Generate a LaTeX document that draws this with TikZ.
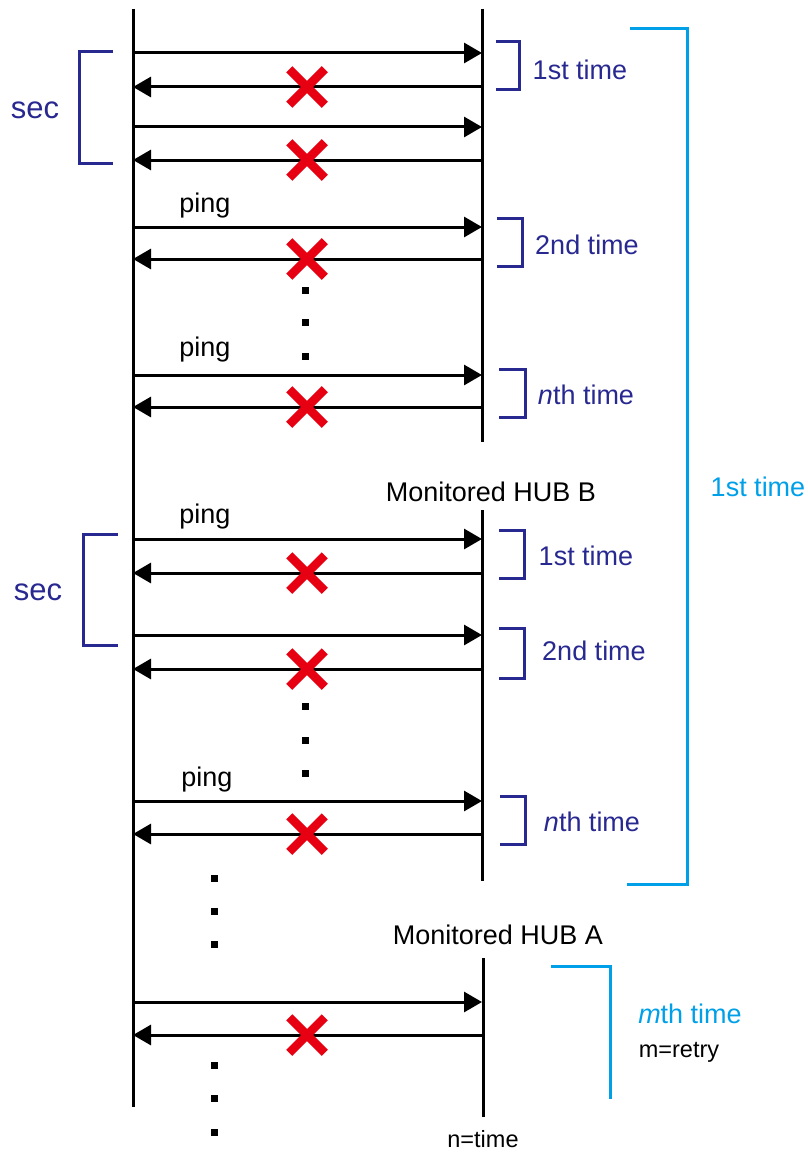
\documentclass[tikz,border=0pt]{standalone}
\usepackage{fontspec}
\setmainfont{Liberation Sans}
\usetikzlibrary{arrows.meta,shapes.misc}
\definecolor{Bdark}{RGB}{40,40,145}
\definecolor{Bcyan}{RGB}{0,160,233}
\definecolor{Xred}{RGB}{230,0,18}

\begin{document}
\begin{tikzpicture}[x=1pt,y=-1pt,line join=miter,
  life/.style={line width=3pt},
  msg/.style={line width=3pt,-{Triangle[length=18pt,width=20pt]}},
  lost/.style={cross out,draw=Xred,line width=8.5pt,minimum size=27pt,inner sep=0pt},
  dotmark/.style={fill=black,minimum size=7pt,inner sep=0pt},
  brk/.style={line width=3pt,draw=Bdark},
  cbrk/.style={line width=3pt,draw=Bcyan},
  txt/.style={font=\fontsize{27}{30}\selectfont,inner sep=0pt},
  smalltxt/.style={font=\fontsize{23.5}{26}\selectfont,inner sep=0pt}]
\path[use as bounding box] (0,0) rectangle (807,1153);
% lifelines
\coordinate (srcT) at (133,9);
\coordinate (srcB) at (133,1107);
\coordinate (hub1T) at (482,9);
\coordinate (hub1B) at (482,442);
\coordinate (hubBT) at (482,510);
\coordinate (hubBB) at (482,881);
\coordinate (hubAT) at (483,958);
\coordinate (hubAB) at (483,1117);
\draw[life] (srcT) -- (srcB);
\draw[life] (hub1T) -- (hub1B);
\draw[life] (hubBT) -- (hubBB);
\draw[life] (hubAT) -- (hubAB);
% pings
\foreach \y [count=\i] in {53,127,227,375,539,635,801,1002}{
  \coordinate (p\i) at (133,\y);
  \coordinate (q\i) at (482,\y);
  \draw[msg] (p\i) -- (q\i);
}
% lost replies
\foreach \y [count=\i] in {87,160,259,407,573,669,834,1035}{
  \coordinate (a\i) at (482,\y);
  \coordinate (b\i) at (133,\y);
  \draw[msg] (a\i) -- (b\i);
  \node[lost] (x\i) at (307,\y) {};
}
% dots
\foreach \y [count=\i] in {290,322,356,706,740,773}
  \node[dotmark] (dm\i) at (305,\y) {};
\foreach \y [count=\i] in {878,911,944,1065,1098,1132}
  \node[dotmark] (dl\i) at (214,\y) {};
% ping labels
\node[txt] (ping1) at (205,206) {ping};
\node[txt] (ping2) at (205,350) {ping};
\node[txt] (ping3) at (205,517) {ping};
\node[txt] (ping4) at (207,780) {ping};
\node[txt] (hubB) at (491,492) {Monitored HUB B};
\node[txt] (hubA) at (498,935) {Monitored HUB A};
\node[smalltxt] (ntime) at (483,1139) {n=time};
% interval brackets
\draw[brk] (113,52) -- (79,52) -- (79,163) -- (113,163);
\draw[brk] (118,534) -- (83,534) -- (83,645) -- (118,645);
\node[txt,text=Bdark,font=\fontsize{31}{34}\selectfont] (sec1) at (35,110) {sec};
\node[txt,text=Bdark,font=\fontsize{31}{34}\selectfont] (sec2) at (38,592) {sec};
% retry brackets
\draw[brk] (496,42) -- (519,42) -- (519,90) -- (496,90);
\draw[brk] (497,218) -- (522,218) -- (522,266) -- (497,266);
\draw[brk] (499,369) -- (525,369) -- (525,417) -- (499,417);
\draw[brk] (499,530) -- (524,530) -- (524,578) -- (499,578);
\draw[brk] (499,628) -- (524,628) -- (524,678) -- (499,678);
\draw[brk] (500,796) -- (525,796) -- (525,844) -- (500,844);
\node[txt,text=Bdark] (t1) at (580,70) {1st time};
\node[txt,text=Bdark] (t2) at (587,245) {2nd time};
\node[txt,text=Bdark] (t3) at (586,395) {\textit{n}th time};
\node[txt,text=Bdark] (t4) at (586,556) {1st time};
\node[txt,text=Bdark] (t5) at (594,651) {2nd time};
\node[txt,text=Bdark] (t6) at (592,822) {\textit{n}th time};
% hub brackets
\draw[cbrk] (630,29) -- (687,29) -- (687,884) -- (627,884);
\draw[cbrk] (551,966) -- (610,966) -- (610,1099);
\node[txt,text=Bcyan] (m1) at (758,487) {1st time};
\node[txt,text=Bcyan] (m2) at (690,1014) {\textit{m}th time};
\node[smalltxt] (retry) at (679,1052) {m=retry};
\end{tikzpicture}
\end{document}
